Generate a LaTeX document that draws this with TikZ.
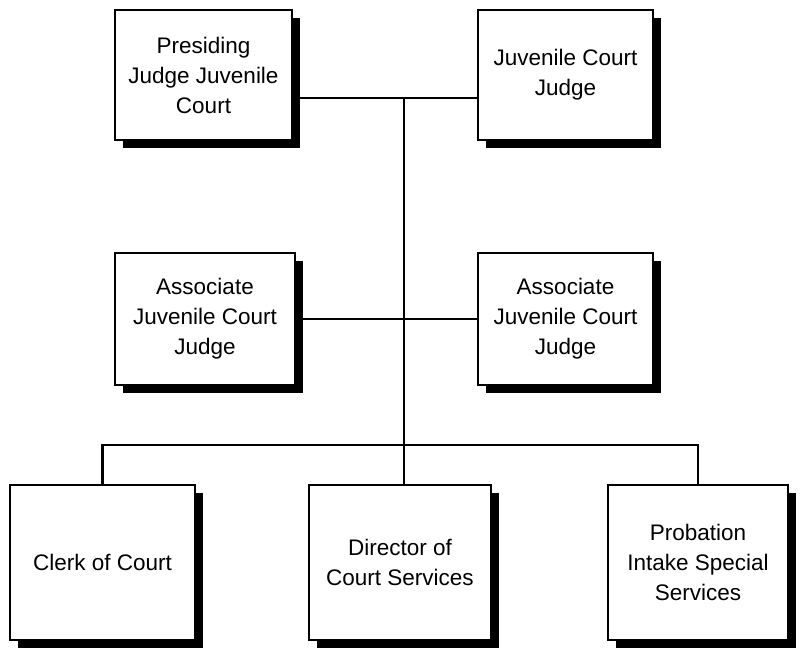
\documentclass[tikz,border=0pt]{standalone}
\usepackage{fontspec}
\setmainfont{Liberation Sans}
\usetikzlibrary{shadows}
\begin{document}
\begin{tikzpicture}[x=1pt, y=-1pt]
    \tikzstyle{office}=[draw, line width=2pt, fill=white, align=center, inner sep=0pt,
        font=\fontsize{22.5}{30}\selectfont,
        drop shadow={shadow xshift=8pt, shadow yshift=-8pt, opacity=1, fill=black}]
    \tikzstyle{link}=[line width=2.2pt]

    \useasboundingbox (0,0) rectangle (800,651);

    \node[office, minimum width=177pt, minimum height=130pt] (pres) at (203.5,75) {Presiding\\Judge Juvenile\\Court};
    \node[office, minimum width=175pt, minimum height=130pt] (jcj) at (565.5,75) {Juvenile Court\\Judge};
    \node[office, minimum width=180pt, minimum height=132pt] (assocl) at (205,319) {Associate\\Juvenile Court\\Judge};
    \node[office, minimum width=175pt, minimum height=132pt] (assocr) at (565.5,319) {Associate\\Juvenile Court\\Judge};
    \node[office, minimum width=185pt, minimum height=155pt] (clerk) at (102.5,562.5) {Clerk of Court};
    \node[office, minimum width=182pt, minimum height=155pt] (dir) at (400,562.5) {Director of\\Court Services};
    \node[office, minimum width=180pt, minimum height=155pt] (prob) at (698,562.5) {Probation\\Intake Special\\Services};

    \coordinate (top) at (404,98);
    \coordinate (mid) at (404,445);

    \draw[link] (pres.east |- top) -- (jcj.west |- top);
    \draw[link] (assocl.east) -- (assocr.west);
    \draw[link] (top) -- (dir.north -| top);
    \draw[link] (clerk.north) |- (mid) -| (prob.north);
\end{tikzpicture}
\end{document}
